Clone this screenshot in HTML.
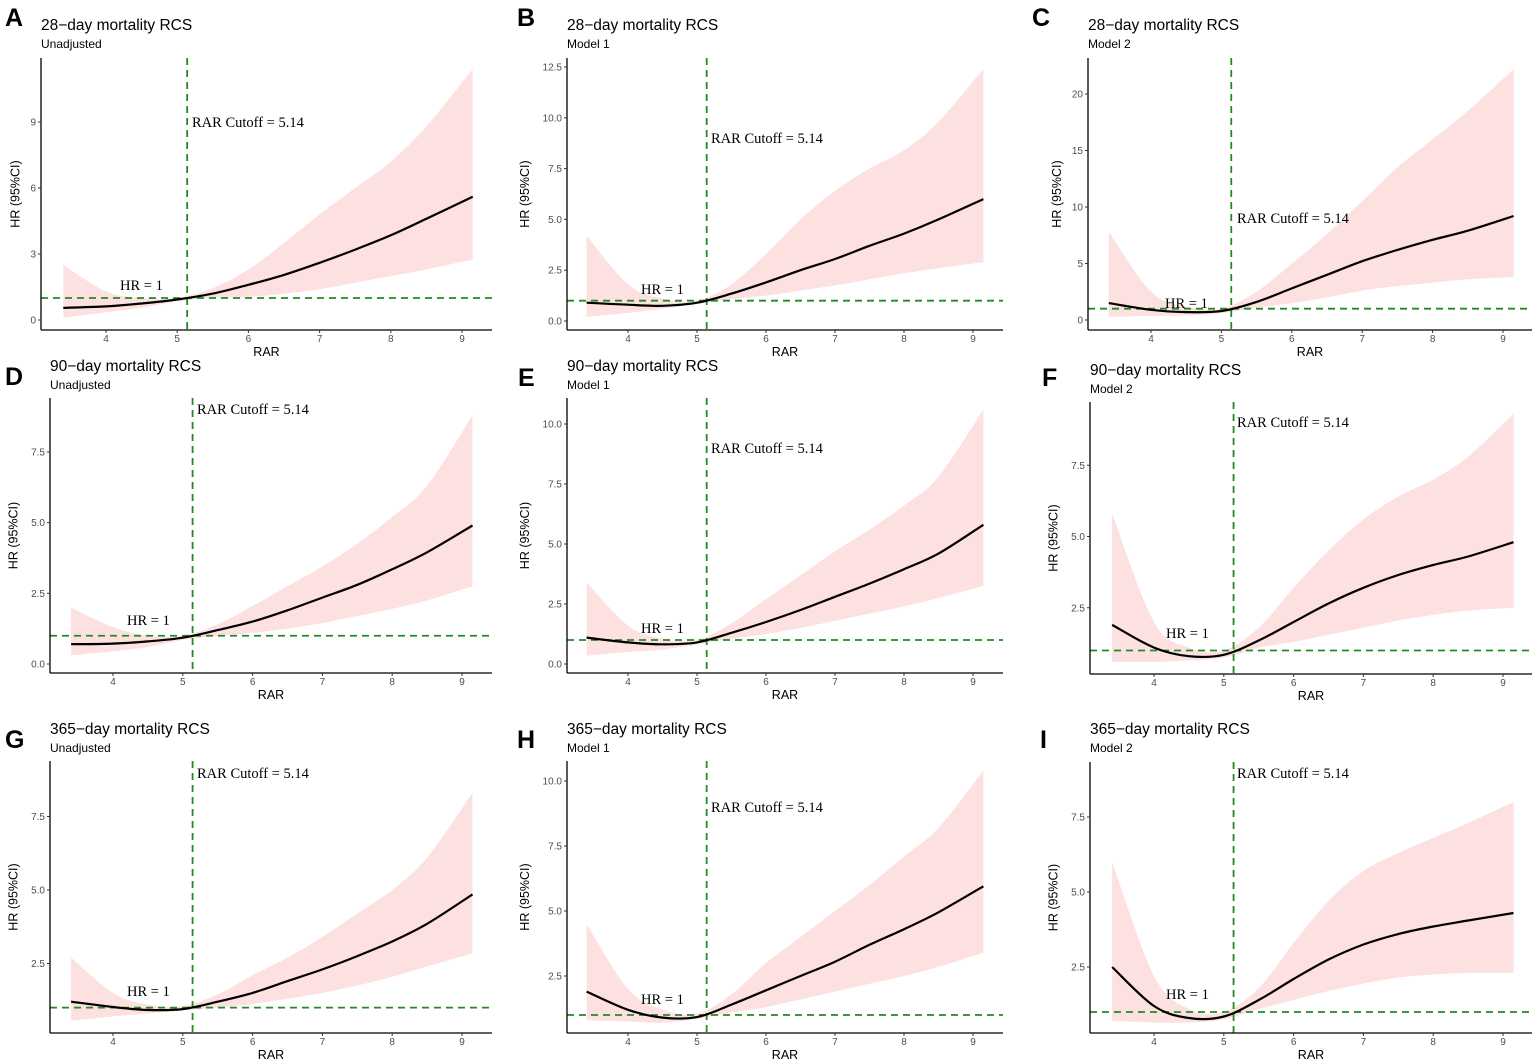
<!DOCTYPE html>
<html><head><meta charset="utf-8">
<style>
html,body{margin:0;padding:0;background:#fff;}
svg{display:block;}
.tick{font-family:"Liberation Sans",sans-serif;font-size:10px;fill:#4d4d4d;}
.ttl{font-family:"Liberation Sans",sans-serif;font-size:15.5px;fill:#000;}
.sub{font-family:"Liberation Sans",sans-serif;font-size:12px;fill:#000;}
.axt{font-family:"Liberation Sans",sans-serif;font-size:12.5px;fill:#000;}
.ann{font-family:"Liberation Serif",serif;font-size:14.5px;fill:#000;}
.let{font-family:"Liberation Sans",sans-serif;font-size:25px;font-weight:bold;fill:#000;}
</style></head>
<body>
<svg id="fig" width="1535" height="1063" viewBox="0 0 1535 1063" xmlns="http://www.w3.org/2000/svg"></svg>
<script>
// shared x grid (RAR values)
const rarX = [3.4,4,4.5,5,5.5,6,6.5,7,7.5,8,8.5,9.15];
const xTicks = [4,5,6,7,8,9];
const cutoff = 5.14;
// panel data: estimates, lower, upper
const estA=[0.55,0.62,0.75,0.93,1.2,1.6,2.05,2.6,3.2,3.85,4.6,5.6];
const loA=[0.1,0.35,0.55,0.85,1.0,1.05,1.2,1.4,1.7,2.0,2.3,2.75];
const hiA=[2.5,1.3,1.0,1.0,1.45,2.3,3.5,4.8,6.0,7.2,8.8,11.4];
const estB=[0.9,0.8,0.75,0.9,1.35,1.9,2.5,3.05,3.7,4.3,5.0,6.0];
const loB=[0.2,0.4,0.6,0.85,1.08,1.25,1.5,1.75,2.05,2.35,2.6,2.9];
const hiB=[4.2,1.8,1.1,1.0,1.8,3.3,5.0,6.4,7.5,8.4,9.8,12.4];
const estC=[1.5,0.9,0.7,0.8,1.6,2.8,4.0,5.2,6.2,7.1,7.9,9.2];
const loC=[0.3,0.35,0.4,0.6,1.1,1.5,2.0,2.6,3.0,3.3,3.6,3.8];
const hiC=[7.8,2.5,1.2,1.0,2.5,5.0,7.6,10.5,13.5,16,18.5,22.2];
const estD=[0.7,0.72,0.8,0.93,1.2,1.5,1.9,2.35,2.8,3.35,3.95,4.9];
const loD=[0.3,0.45,0.6,0.85,1.0,1.1,1.25,1.45,1.7,1.95,2.25,2.75];
const hiD=[2.0,1.3,1.0,1.0,1.4,2.05,2.75,3.45,4.25,5.2,6.3,8.8];
const estE=[1.1,0.9,0.82,0.9,1.3,1.75,2.25,2.8,3.35,3.95,4.6,5.8];
const loE=[0.35,0.5,0.6,0.82,1.05,1.25,1.5,1.8,2.1,2.4,2.75,3.25];
const hiE=[3.4,1.6,1.05,1.0,1.7,2.7,3.7,4.7,5.6,6.6,7.8,10.6];
const estF=[1.9,1.1,0.8,0.85,1.35,2.0,2.65,3.2,3.65,4.0,4.3,4.8];
const loF=[0.6,0.6,0.65,0.75,1.1,1.3,1.55,1.8,2.05,2.25,2.4,2.5];
const hiF=[5.8,2.0,1.1,1.0,1.8,3.2,4.5,5.6,6.4,7.0,7.8,9.3];
const estG=[1.2,1.02,0.92,0.95,1.2,1.5,1.9,2.3,2.75,3.25,3.85,4.85];
const loG=[0.55,0.7,0.8,0.9,1.0,1.12,1.3,1.5,1.75,2.05,2.4,2.85];
const hiG=[2.7,1.5,1.1,1.05,1.45,2.1,2.7,3.4,4.2,5.0,6.1,8.3];
const estH=[1.9,1.2,0.9,0.92,1.4,1.95,2.5,3.05,3.7,4.3,4.95,5.95];
const loH=[0.8,0.75,0.7,0.85,1.1,1.3,1.6,1.9,2.2,2.5,2.85,3.4];
const hiH=[4.5,2.0,1.2,1.05,1.8,3.0,4.0,5.0,6.0,7.1,8.2,10.4];
const estI=[2.5,1.2,0.8,0.85,1.4,2.1,2.75,3.25,3.6,3.85,4.05,4.3];
const loI=[0.7,0.65,0.65,0.75,1.1,1.4,1.7,1.95,2.15,2.25,2.3,2.3];
const hiI=[6.0,2.2,1.1,1.0,1.8,3.3,4.7,5.7,6.3,6.8,7.3,8.0];
const yTicksA=[0,3,6,9], yTicksB=[0,2.5,5,7.5,10,12.5], yTicksC=[0,5,10,15,20];
const yTicksD=[0,2.5,5,7.5], yTicksE=[0,2.5,5,7.5,10], yTicksF=[2.5,5,7.5];
const yTicksG=[2.5,5,7.5], yTicksH=[2.5,5,7.5,10], yTicksI=[2.5,5,7.5];
const titles=["28−day mortality RCS","28−day mortality RCS","28−day mortality RCS","90−day mortality RCS","90−day mortality RCS","90−day mortality RCS","365−day mortality RCS","365−day mortality RCS","365−day mortality RCS"];
const subs=["Unadjusted","Model 1","Model 2","Unadjusted","Model 1","Model 2","Unadjusted","Model 1","Model 2"];

// layout (pixel geometry)
const panels=[
 {id:"A",ax:41,right:492,top:58,bot:330,x4:106,x9:462,y0:320,py:22,ly:18,lx:5,tx:41,ty:30,cut:[192,127],hr:[120,290],est:estA,lo:loA,hi:hiA,yt:yTicksA,dec:0},
 {id:"B",ax:567,right:1003,top:58,bot:330,x4:628,x9:973,y0:321,py:20.32,ly:18,lx:517,tx:567,ty:30,cut:[711,143],hr:[641,294],est:estB,lo:loB,hi:hiB,yt:yTicksB,dec:1},
 {id:"C",ax:1088,right:1532,top:58,bot:330,x4:1151,x9:1503,y0:320,py:11.3,ly:18,lx:1032,tx:1088,ty:30,cut:[1237,223],hr:[1165,308],est:estC,lo:loC,hi:hiC,yt:yTicksC,dec:0},
 {id:"D",ax:50,right:492,top:398,bot:673,x4:113,x9:462,y0:664,py:28.27,ly:377,lx:5,tx:50,ty:371,cut:[197,414],hr:[127,625],est:estD,lo:loD,hi:hiD,yt:yTicksD,dec:1},
 {id:"E",ax:567,right:1003,top:398,bot:673,x4:628,x9:973,y0:664,py:24,ly:378,lx:518,tx:567,ty:371,cut:[711,453],hr:[641,633],est:estE,lo:loE,hi:hiE,yt:yTicksE,dec:1},
 {id:"F",ax:1090,right:1532,top:402,bot:674,x4:1154,x9:1503,y0:679,py:28.5,ly:378,lx:1042,tx:1090,ty:375,cut:[1237,427],hr:[1166,638],est:estF,lo:loF,hi:hiF,yt:yTicksF,dec:1},
 {id:"G",ax:50,right:492,top:761,bot:1033,x4:113,x9:462,y0:1037,py:29.4,ly:740,lx:5,tx:50,ty:734,cut:[197,778],hr:[127,996],est:estG,lo:loG,hi:hiG,yt:yTicksG,dec:1},
 {id:"H",ax:567,right:1003,top:761,bot:1033,x4:628,x9:973,y0:1041,py:26,ly:740,lx:517,tx:567,ty:734,cut:[711,812],hr:[641,1004],est:estH,lo:loH,hi:hiH,yt:yTicksH,dec:1},
 {id:"I",ax:1090,right:1532,top:762,bot:1033,x4:1154,x9:1503,y0:1042,py:30,ly:740,lx:1040,tx:1090,ty:734,cut:[1237,778],hr:[1166,999],est:estI,lo:loI,hi:hiI,yt:yTicksI,dec:1}
];
const NS="http://www.w3.org/2000/svg";
const fig=document.getElementById("fig");
function mk(tag,attrs,parent){const e=document.createElementNS(NS,tag);for(const k in attrs)e.setAttribute(k,attrs[k]);(parent||fig).appendChild(e);return e;}
function spline(pts){
  let d="M"+pts[0][0].toFixed(1)+","+pts[0][1].toFixed(1);
  for(let i=0;i<pts.length-1;i++){
    const p0=pts[Math.max(0,i-1)],p1=pts[i],p2=pts[i+1],p3=pts[Math.min(pts.length-1,i+2)];
    const c1=[p1[0]+(p2[0]-p0[0])/6,p1[1]+(p2[1]-p0[1])/6];
    const c2=[p2[0]-(p3[0]-p1[0])/6,p2[1]-(p3[1]-p1[1])/6];
    d+=" C"+c1[0].toFixed(1)+","+c1[1].toFixed(1)+" "+c2[0].toFixed(1)+","+c2[1].toFixed(1)+" "+p2[0].toFixed(1)+","+p2[1].toFixed(1);
  }
  return d;
}
panels.forEach((p,idx)=>{
  const g=mk("g",{});
  
  
  const sx=v=>p.x4+(v-4)*(p.x9-p.x4)/5;
  const sy=v=>p.y0-v*p.py;
  const up=rarX.map((x,i)=>[sx(x),sy(p.hi[i])]);
  const dn=rarX.map((x,i)=>[sx(x),sy(p.lo[i])]).reverse();
  const band=mk("path",{d:spline(up)+" L"+dn[0][0].toFixed(1)+","+dn[0][1].toFixed(1)+spline(dn).replace(/^M[^C]*/," ")+" Z",fill:"#fde0e0",stroke:"none"},g);
  
  
  const hl=mk("line",{x1:p.ax,x2:p.right,y1:sy(1),y2:sy(1),stroke:"#228b22","stroke-width":1.8,"stroke-dasharray":"7,5"},g);
  
  
  const vl=mk("line",{x1:sx(cutoff),x2:sx(cutoff),y1:p.top,y2:p.bot,stroke:"#228b22","stroke-width":1.8,"stroke-dasharray":"7,5"},g);
  
  
  const cv=mk("path",{d:spline(rarX.map((x,i)=>[sx(x),sy(p.est[i])])),fill:"none",stroke:"#000","stroke-width":2.2},g);
  
  
  mk("line",{x1:p.ax,x2:p.ax,y1:p.top,y2:p.bot,stroke:"#000","stroke-width":1.3},g);
  mk("line",{x1:p.ax,x2:p.right,y1:p.bot,y2:p.bot,stroke:"#000","stroke-width":1.3},g);
  xTicks.forEach(t=>{
    mk("line",{x1:sx(t),x2:sx(t),y1:p.bot,y2:p.bot+3,stroke:"#333"},g);
    const tx=mk("text",{x:sx(t),y:p.bot+12,"text-anchor":"middle",class:"tick"},g);
    tx.textContent=t;
    
    
  });
  let maxLen=1;
  p.yt.forEach(t=>{
    mk("line",{x1:p.ax-3,x2:p.ax,y1:sy(t),y2:sy(t),stroke:"#333"},g);
    const ty=mk("text",{x:p.ax-5,y:sy(t)+3.5,"text-anchor":"end",class:"tick"},g);
    ty.textContent=p.dec?t.toFixed(1):t;
    maxLen=Math.max(maxLen,ty.textContent.length);
    
    
  });
  const xt=mk("text",{x:(p.ax+p.right)/2,y:p.bot+26,"text-anchor":"middle",class:"axt"},g);
  xt.textContent="RAR";
  
  
  const yx=p.ax-(16+5.5*maxLen), ymid=(p.top+p.bot)/2;
  const yt=mk("text",{x:yx,y:ymid,"text-anchor":"middle",class:"axt",transform:"rotate(-90 "+yx+" "+ymid+")"},g);
  yt.textContent="HR (95%CI)";
  
  
  const t1=mk("text",{x:p.tx,y:p.ty,class:"ttl"},g);
  t1.textContent=titles[idx];
  
  
  const t2=mk("text",{x:p.tx,y:p.ty+18,class:"sub"},g);
  t2.textContent=subs[idx];
  
  
  const lt=mk("text",{x:p.lx,y:p.ly+8,class:"let"},g);
  lt.textContent=p.id;
  
  
  const ca=mk("text",{x:p.cut[0],y:p.cut[1],class:"ann"},g);
  ca.textContent="RAR Cutoff = 5.14";
  
  
  const ha=mk("text",{x:p.hr[0],y:p.hr[1],class:"ann"},g);
  ha.textContent="HR = 1";
  
  
});
</script>
</body></html>
